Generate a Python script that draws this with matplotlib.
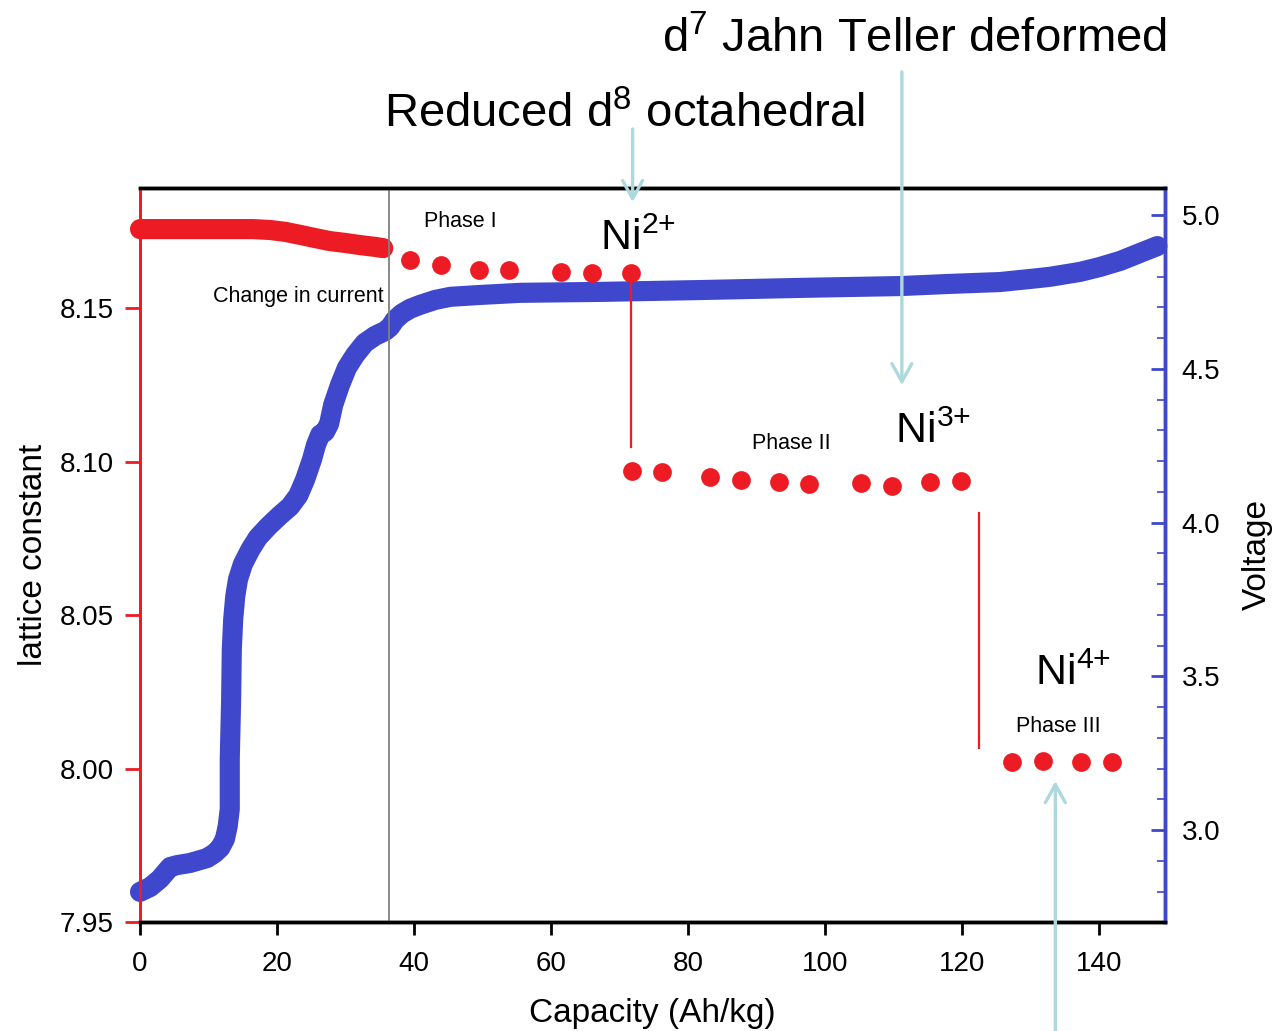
import numpy as np
import matplotlib
matplotlib.use("Agg")
import matplotlib.pyplot as plt

plt.rcParams["font.family"] = ["Liberation Sans", "DejaVu Sans"]
plt.rcParams["mathtext.fontset"] = "custom"
plt.rcParams["mathtext.rm"] = "Liberation Sans"
plt.rcParams["mathtext.it"] = "Liberation Sans:italic"

# ---- charge curve (voltage vs capacity) ----
cap_v = [0.0, 1.5, 2.9, 4.4, 5.4, 7.3, 9.8, 10.9, 11.7, 12.4, 12.8, 13.1,
         13.1, 13.3, 13.4, 13.6, 13.9, 14.3, 15.0, 16.1, 17.2, 18.7, 20.4,
         21.9, 23.1, 24.1, 25.1, 25.7, 26.3, 27.0, 27.6, 28.2, 29.2, 30.2,
         31.4, 32.8, 34.3, 35.8, 36.5, 37.2, 38.2, 39.4, 40.9, 43.1, 45.3,
         49.6, 55.5, 67.2, 81.8, 96.4, 111.0, 118.2, 125.5, 129.9, 132.8,
         137.2, 140.1, 143.1, 146.0, 148.5]
volt = [2.799, 2.815, 2.841, 2.880, 2.886, 2.893, 2.909, 2.925, 2.942, 2.971,
        3.013, 3.068, 3.231, 3.425, 3.588, 3.685, 3.760, 3.815, 3.864, 3.912,
        3.951, 3.987, 4.023, 4.052, 4.088, 4.140, 4.205, 4.253, 4.286, 4.295,
        4.321, 4.383, 4.448, 4.503, 4.545, 4.584, 4.607, 4.623, 4.636, 4.659,
        4.679, 4.695, 4.708, 4.724, 4.734, 4.740, 4.747, 4.750, 4.756, 4.763,
        4.769, 4.776, 4.782, 4.792, 4.799, 4.815, 4.831, 4.851, 4.877, 4.899]

# ---- lattice constant ----
# continuous measurement before the current change
cap_cont = [0.0, 4.4, 8.8, 13.1, 16.5, 19.0, 21.2, 23.4, 25.5, 27.7, 29.9,
            32.1, 34.3, 35.5]
lat_cont = [8.1757, 8.1757, 8.1757, 8.1757, 8.1757, 8.1754, 8.1748, 8.1738,
            8.1728, 8.1718, 8.1712, 8.1705, 8.1699, 8.1695]

cap_p1 = [39.4, 43.9, 49.5, 53.9, 61.5, 66.0, 71.7]
lat_p1 = [8.1656, 8.1640, 8.1624, 8.1624, 8.1617, 8.1614, 8.1614]

cap_p2 = [71.8, 76.2, 83.2, 87.7, 93.3, 97.7, 105.3, 109.8, 115.3, 119.9]
lat_p2 = [8.0969, 8.0966, 8.0950, 8.0940, 8.0933, 8.0927, 8.0930, 8.0920,
          8.0933, 8.0936]

cap_p3 = [127.3, 131.8, 137.4, 141.9]
lat_p3 = [8.0021, 8.0024, 8.0021, 8.0021]

current_change = 36.4
RED = "#ED1C24"
BLUE = "#3F48CC"
CYAN = "#ADD9DD"

fig = plt.figure(figsize=(12.74, 10.31), dpi=100)
ax = fig.add_axes([0.1099, 0.1057, 0.8045, 0.7120])
ax2 = ax.twinx()

# voltage curve on the right axis
ax2.plot(cap_v, volt, color=BLUE, lw=14.5, solid_capstyle="round",
         solid_joinstyle="round", clip_on=False, zorder=2)
ax2.set_ylim(2.701, 5.088)
ax2.set_yticks([3.0, 3.5, 4.0, 4.5, 5.0])
ax2.set_yticks(np.arange(2.8, 5.05, 0.1), minor=True)
ax2.tick_params(axis="y", which="major", direction="in", length=10, width=2,
                color=BLUE, labelsize=20, pad=12)
ax2.tick_params(axis="y", which="minor", direction="in", length=6, width=1.2,
                color=BLUE)
ax2.set_ylabel("Voltage", fontsize=24)
ax2.yaxis.set_label_coords(1.075, 0.5)

# lattice constant on the left axis, drawn above the voltage curve
ax.set_zorder(ax2.get_zorder() + 1)
ax.patch.set_visible(False)

ax.plot(cap_cont, lat_cont, color=RED, lw=14.5, solid_capstyle="round",
        solid_joinstyle="round", clip_on=False)
for c, l in [(cap_p1, lat_p1), (cap_p2, lat_p2), (cap_p3, lat_p3)]:
    ax.plot(c, l, "o", ms=13.5, color=RED, mec="none", clip_on=False)

# phase transitions
ax.plot([cap_p1[-1], cap_p1[-1]], [lat_p1[-1], 8.1047], color=RED, lw=1.6)
ax.plot([122.5, 122.5], [8.0832, 8.0067], color=RED, lw=1.6)
ax.axvline(current_change, color="#808080", lw=1.3)

ax.set_xlim(0, 149.6)
ax.set_ylim(7.95, 8.1891)
ax.set_xticks(np.arange(0, 141, 20))
ax.set_yticks([7.95, 8.00, 8.05, 8.10, 8.15])
ax.yaxis.set_major_formatter(matplotlib.ticker.FormatStrFormatter("%.2f"))
ax.tick_params(axis="x", direction="out", length=9, width=2, labelsize=20,
               pad=12)
ax.tick_params(axis="y", direction="out", length=11, width=2, color=RED,
               labelsize=20, pad=8)
ax.set_xlabel("Capacity (Ah/kg)", fontsize=24)
ax.xaxis.set_label_coords(0.5, -0.104)
ax.set_ylabel("lattice constant", fontsize=24)
ax.yaxis.set_label_coords(-0.089, 0.5)

for a in (ax, ax2):
    a.spines["left"].set_color(RED)
    a.spines["left"].set_linewidth(2)
    a.spines["right"].set_color(BLUE)
    a.spines["right"].set_linewidth(2.5)
    a.spines["top"].set_linewidth(2.5)
    a.spines["bottom"].set_linewidth(2.5)

# annotations
ax.text(35.5, 8.1539, "Change in current", ha="right", va="center",
        fontsize=15.5)
ax.text(46.7, 8.1783, "Phase I", ha="center", va="center", fontsize=15.5)
ax.text(95.0, 8.1060, "Phase II", ha="center", va="center", fontsize=15.5)
ax.text(134.0, 8.0138, "Phase III", ha="center", va="center", fontsize=15.5)

ax.text(67.2, 8.1689, r"Ni$^{\mathrm{2{+}}}$", ha="left", va="baseline",
        fontsize=31)
ax.text(110.2, 8.1060, r"Ni$^{\mathrm{3{+}}}$", ha="left", va="baseline",
        fontsize=31)
ax.text(130.7, 8.0272, r"Ni$^{\mathrm{4{+}}}$", ha="left", va="baseline",
        fontsize=31)

fig.text(0.718, 0.9496, r"d$^{\mathrm{7}}$ Jahn Teller deformed",
         ha="center", va="baseline", fontsize=34)
fig.text(0.490, 0.8768, r"Reduced d$^{\mathrm{8}}$ octahedral",
         ha="center", va="baseline", fontsize=34)

arrow = dict(arrowstyle="->,head_length=0.65,head_width=0.36", color=CYAN,
             lw=2.4, shrinkA=0, shrinkB=0, mutation_scale=20)
for tail, head in [((71.9, 8.2083), (71.9, 8.1845)),
                   ((111.2, 8.2269), (111.2, 8.1249)),
                   ((133.6, 7.9145), (133.6, 7.9959))]:
    ax.annotate("", xy=head, xytext=tail, arrowprops=arrow,
                annotation_clip=False, zorder=10)

fig.savefig("out.png", dpi=100)
